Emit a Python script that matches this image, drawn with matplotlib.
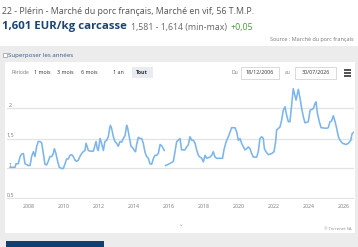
import numpy as np
import matplotlib
matplotlib.use("Agg")
import matplotlib.pyplot as plt
from matplotlib.patches import Rectangle

W, H = 358, 247

# ---- data (decimal years, EUR/kg carcasse) ----
years = [2006.96, 2007.24, 2007.30, 2007.43, 2007.53, 2007.62, 2007.72, 2007.81, 2008.0, 2008.1,
         2008.19, 2008.29, 2008.38, 2008.48, 2008.57, 2008.67, 2008.76, 2008.86, 2008.95, 2009.05,
         2009.14, 2009.24, 2009.34, 2009.43, 2009.49, 2009.58, 2009.66, 2009.77, 2009.91, 2010.0,
         2010.1, 2010.19, 2010.29, 2010.38, 2010.48, 2010.57, 2010.67, 2010.76, 2010.86, 2010.95,
         2011.05, 2011.14, 2011.24, 2011.3, 2011.37, 2011.43, 2011.53, 2011.72, 2011.81, 2011.87,
         2011.94, 2012.0, 2012.1, 2012.19, 2012.29, 2012.38, 2012.48, 2012.57, 2012.63, 2012.69,
         2012.76, 2012.86, 2012.95, 2013.05, 2013.14, 2013.24, 2013.34, 2013.43, 2013.53, 2013.62,
         2013.68, 2013.77, 2013.87, 2013.96, 2014.06, 2014.13, 2014.19, 2014.29, 2014.38, 2014.48,
         2014.57, 2014.67, 2014.76, 2014.86, 2014.95, 2015.05, 2015.14, 2015.24, 2015.33, 2015.43,
         2015.53, 2015.62, 2015.72, 2015.77, 2015.81, 2015.85, 2016.0, 2016.19, 2016.29, 2016.38,
         2016.48, 2016.57, 2016.67, 2016.76, 2016.95, 2017.05, 2017.14, 2017.24, 2017.34, 2017.43,
         2017.53, 2017.62, 2017.72, 2017.81, 2017.91, 2018.0, 2018.1, 2018.19, 2018.38, 2018.48,
         2018.57, 2018.67, 2018.76, 2019.1, 2019.18, 2019.3, 2019.43, 2019.53, 2019.62, 2019.81,
         2019.91, 2020.0, 2020.1, 2020.19, 2020.29, 2020.38, 2020.48, 2020.57, 2020.67, 2020.76,
         2020.86, 2021.05, 2021.14, 2021.24, 2021.34, 2021.43, 2021.49, 2021.58, 2021.72, 2021.91,
         2022.04, 2022.13, 2022.19, 2022.29, 2022.38, 2022.48, 2022.57, 2022.67, 2022.76, 2022.86,
         2022.95, 2023.05, 2023.14, 2023.3, 2023.43, 2023.53, 2023.62, 2023.72, 2023.81, 2024.0,
         2024.1, 2024.29, 2024.38, 2024.44, 2024.52, 2024.63, 2024.73, 2025.05, 2025.14, 2025.24,
         2025.33, 2025.43, 2025.53, 2025.62, 2025.72, 2025.81, 2025.96, 2026.15, 2026.29, 2026.43,
         2026.5, 2026.58]
prices = [1.02, 1.02, 1.08, 1.08, 1.20, 1.24, 1.25, 1.08, 1.05, 1.05,
          1.20, 1.28, 1.20, 1.37, 1.45, 1.45, 1.43, 1.25, 1.07, 1.06,
          1.12, 1.20, 1.20, 1.25, 1.33, 1.25, 1.14, 1.02, 1.00, 1.00,
          1.08, 1.16, 1.16, 1.22, 1.23, 1.20, 1.14, 1.12, 1.14, 1.20,
          1.25, 1.28, 1.30, 1.42, 1.36, 1.30, 1.29, 1.29, 1.39, 1.45,
          1.33, 1.30, 1.50, 1.42, 1.30, 1.45, 1.47, 1.53, 1.64, 1.72,
          1.67, 1.53, 1.45, 1.42, 1.37, 1.45, 1.44, 1.50, 1.55, 1.72,
          1.67, 1.53, 1.37, 1.35, 1.30, 1.28, 1.40, 1.52, 1.50, 1.50,
          1.42, 1.27, 1.20, 1.17, 1.08, 1.07, 1.16, 1.22, 1.22, 1.25,
          1.40, 1.38, 1.33, 1.30, np.nan, 1.05, 1.07, 1.10, 1.12, 1.28,
          1.45, 1.47, 1.50, 1.31, 1.31, 1.36, 1.39, 1.53, 1.47, 1.47,
          1.42, 1.31, 1.22, 1.19, 1.17, 1.11, 1.22, 1.17, 1.19, 1.22,
          1.28, 1.19, 1.17, 1.17, 1.31, 1.44, 1.53, 1.61, 1.68, 1.68,
          1.61, 1.47, 1.50, 1.42, 1.36, 1.31, 1.33, 1.36, 1.33, 1.25,
          1.19, 1.19, 1.28, 1.50, 1.53, 1.50, 1.33, 1.28, 1.23, 1.25,
          1.28, 1.44, 1.64, 1.67, 1.69, 1.81, 1.97, 2.03, 1.89, 1.78,
          1.78, 2.06, 2.33, 2.14, 2.32, 2.17, 2.00, 1.86, 1.76, 1.78,
          1.97, 2.00, 2.08, 2.11, 1.92, 1.78, 1.68, 1.67, 1.68, 1.78,
          1.79, 1.88, 1.78, 1.67, 1.53, 1.47, 1.42, 1.40, 1.42, 1.47,
          1.58, 1.60]
x_ticks = [2008, 2010, 2012, 2014, 2016, 2018, 2020, 2022, 2024, 2026]
y_ticks = [0.5, 1.0, 1.5, 2.0]
y_tick_labels = ["0,5", "1", "1,5", "2"]
periods = ["1 mois", "3 mois", "6 mois", "1 an", "Tout"]

FONT = ["Open Sans", "DejaVu Sans"]
plt.rcParams["font.family"] = FONT

fig = plt.figure(figsize=(W / 100, H / 100), dpi=100)
fig.patch.set_facecolor("white")


def fx(x):
    return x / W


def fy(y):
    return 1 - y / H


def rect(x0, y0, x1, y1, fc, ec="none", lw=0, z=0):
    fig.patches.append(Rectangle((fx(x0), fy(y1)), (x1 - x0) / W, (y1 - y0) / H,
                                 transform=fig.transFigure, facecolor=fc,
                                 edgecolor=ec, linewidth=lw, zorder=z))


def txt(x, y, s, size, color, ha="left", va="center", weight="normal"):
    fig.text(fx(x), fy(y), s, fontsize=size, color=color, ha=ha, va=va,
             fontweight=weight, family=FONT)


# header
txt(2, 12, "22 - Plérin - Marché du porc français, Marché en vif, 56 T.M.P.", 6.4, "#555555")
txt(2, 27, "1,601 EUR/kg carcasse", 8.2, "#1b4571", weight="bold")
txt(131, 27.5, "1,581 - 1,614 (min-max)", 6.3, "#666666")
txt(231, 27.5, "+0,05", 6.3, "#4a9a3a")
txt(270, 39, "Source : Marché du porc français", 4.0, "#777777")

# grey panel and white card
rect(0, 46, 358, 247, "#ececec", z=0)
rect(5, 62, 355, 233, "white", z=1)
rect(3, 53, 7, 57, "white", ec="#999999", lw=0.5, z=2)
txt(8, 55.5, "Superposer les années", 4.4, "#2d5a8c")

# range selector
txt(11, 73, "Période", 3.6, "#777777")
for s, x in zip(periods, [42, 65.5, 89.5, 118, 142]):
    txt(x, 73, s, 3.9, "#333333", ha="center", weight="bold" if s == "Tout" else "normal")
rect(132, 67.5, 153, 78.5, "#e8ebf0", z=2)
txt(232, 73, "Du", 3.6, "#777777")
rect(241, 67, 279, 79, "white", ec="#cccccc", lw=0.5, z=2)
txt(260, 73, "18/12/2006", 3.9, "#333333", ha="center")
txt(285, 73, "au", 3.6, "#777777")
rect(295, 67, 336, 79, "white", ec="#cccccc", lw=0.5, z=2)
txt(315.5, 73, "30/07/2026", 3.9, "#333333", ha="center")
for yy in (70, 73, 76):
    rect(344, yy - 0.6, 351, yy + 0.6, "#555555", z=2)
rect(10, 81.5, 350, 82.3, "#e6e6e6", z=2)

# chart axes
ax_l, ax_r, ax_t, ax_b = 7, 354, 85, 198.5
ax = fig.add_axes([fx(ax_l), fy(ax_b), (ax_r - ax_l) / W, (ax_b - ax_t) / H])
ax.set_facecolor("none")
ax.set_zorder(3)
px_per_year = 17.5
x0_year = 2008 + (ax_l - 28.3) / px_per_year
x1_year = 2008 + (ax_r - 28.3) / px_per_year
ax.set_xlim(x0_year, x1_year)
ax.set_ylim(0.5, 0.5 + (ax_b - ax_t) / 60.0)
for v in y_ticks:
    ax.axhline(v, color="#e3e3e3", lw=0.9, zorder=0)
ax.plot(years, prices, color="#7cb5ec", lw=1.15, solid_joinstyle="round", zorder=2)
for s in ax.spines.values():
    s.set_visible(False)
ax.set_xticks([])
ax.set_yticks([])
for v, lab in zip(y_ticks, y_tick_labels):
    ax.annotate(lab, xy=(0, v), xycoords=("axes fraction", "data"),
                xytext=(10.5 - ax_l, 0.5), textcoords="offset pixels",
                fontsize=3.9, color="#777777", ha="center", va="bottom", family=FONT)
for t in x_ticks:
    ax.annotate(str(t), xy=(t, 0), xycoords=("data", "axes fraction"),
                xytext=(0, -8), textcoords="offset pixels",
                fontsize=3.8, color="#777777", ha="center", va="center", family=FONT)

txt(181, 224, "⌄", 4, "#999999", ha="center")
txt(352, 229, "© Terrenet SA", 3.0, "#888888", ha="right")

# button at bottom
rect(6, 241, 104, 247, "#123f6e", z=2)

fig.savefig("out.png", dpi=100)
